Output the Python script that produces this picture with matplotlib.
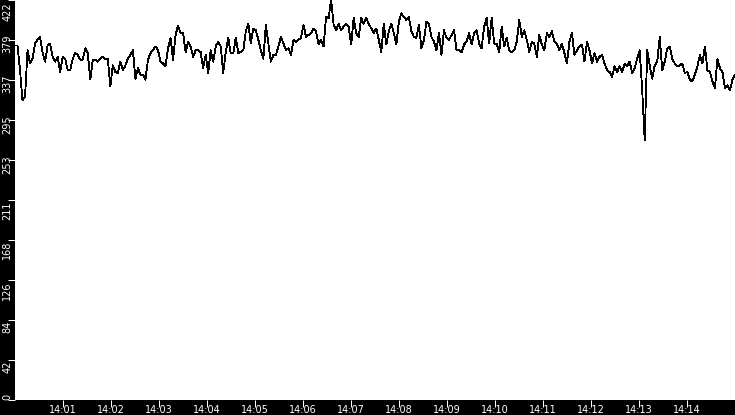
import numpy as np
import pandas as pd
import matplotlib
matplotlib.use("Agg")
import matplotlib.pyplot as plt
import matplotlib.dates as mdates
from matplotlib.transforms import blended_transform_factory, ScaledTranslation

# values, left to right (six 2.5 minute stretches)
part1 = [374, 374, 348, 316, 320, 369, 355, 360, 376, 380, 383, 366, 357, 374, 376, 362,
         357, 362, 346, 362, 360, 348, 348, 360, 366, 364, 359, 359, 371, 366, 338, 359,
         359, 357, 360, 362, 360, 360, 331, 353, 346, 345, 357, 348, 353, 360, 364, 369]
part2 = [339, 350, 343, 343, 338, 359, 366, 369, 373, 369, 357, 355, 352, 371, 382, 359,
         385, 395, 387, 387, 367, 378, 373, 362, 369, 369, 367, 350, 364, 345, 369, 357,
         373, 378, 373, 345, 367, 382, 366, 366, 382, 366, 367, 369, 389, 397, 376, 392]
part3 = [390, 380, 369, 360, 396, 376, 357, 364, 364, 373, 383, 376, 369, 371, 364, 380,
         378, 380, 382, 396, 383, 385, 387, 392, 389, 375, 380, 373, 404, 403, 422, 396,
         390, 397, 390, 394, 397, 394, 375, 403, 387, 383, 403, 397, 403, 397, 392, 387]
part4 = [392, 380, 367, 397, 375, 389, 397, 387, 375, 399, 408, 404, 401, 404, 389, 383,
         382, 396, 371, 380, 399, 397, 383, 378, 369, 387, 364, 390, 382, 380, 385, 390,
         369, 369, 367, 375, 378, 387, 375, 387, 390, 376, 371, 394, 403, 376, 403, 376]
part5 = [376, 367, 394, 373, 382, 369, 367, 369, 378, 401, 383, 390, 380, 367, 378, 376,
         362, 385, 375, 369, 387, 383, 389, 378, 376, 369, 376, 366, 355, 378, 387, 364,
         369, 373, 375, 357, 378, 369, 355, 366, 357, 362, 364, 355, 348, 346, 341, 352]
part6 = [346, 352, 346, 355, 352, 357, 345, 350, 360, 369, 327, 274, 369, 353, 339, 353,
         357, 383, 348, 357, 371, 373, 360, 355, 352, 353, 355, 345, 346, 338, 336, 343,
         352, 364, 355, 373, 348, 346, 336, 329, 360, 350, 346, 329, 332, 327, 338, 343]

start = pd.Timestamp("2024-01-01 14:00:00")
end = pd.Timestamp("2024-01-01 14:15:00")
tick_times = pd.date_range("2024-01-01 14:01", "2024-01-01 14:14", freq="min")

values = np.array(part1 + part2 + part3 + part4 + part5 + part6, dtype=float)
times = pd.date_range(start, end, periods=len(values))

W, H = 735, 415
fig = plt.figure(figsize=(W / 100, H / 100), dpi=100, facecolor="black")
ax = fig.add_axes([15 / W, 15 / H, 720 / W, 400 / H])
ax.set_facecolor("white")
ax.plot(times, values, color="black", lw=0.6, antialiased=False)

ymax = values.max()
ax.set_ylim(0, ymax)
ax.set_xlim(start, end)

# y ticks: 10 equal steps up to the max, labels truncated like the original
yticks = np.linspace(0, ymax, 11)
ax.set_yticks(yticks)
ax.set_yticklabels([])
ax.set_xticks(tick_times)
ax.xaxis.set_major_formatter(mdates.DateFormatter("%H:%M"))

for s in ax.spines.values():
    s.set_visible(False)
ax.tick_params(colors="white", labelsize=7, length=5, width=0.75)
ax.tick_params(axis="x", pad=-1.5)

# rotated y labels, drawn by hand so each one can sit where the original puts it
blend = blended_transform_factory(ax.transAxes, ax.transData)
px = 1 / 100
for v in yticks:
    if v == ymax:
        va, dy = "top", -2
    elif v == 0:
        va, dy = "bottom", 0
    elif v > ymax / 2:
        va, dy = "top", 5
    else:
        va, dy = "top", -1
    off = ScaledTranslation(-2.7 * px, dy * px, fig.dpi_scale_trans)
    ax.text(0, v, str(int(v)), transform=blend + off, rotation=90,
            ha="right", va=va, color="white", fontsize=7, clip_on=False)

fig.savefig("out.png", dpi=100, facecolor="black")
